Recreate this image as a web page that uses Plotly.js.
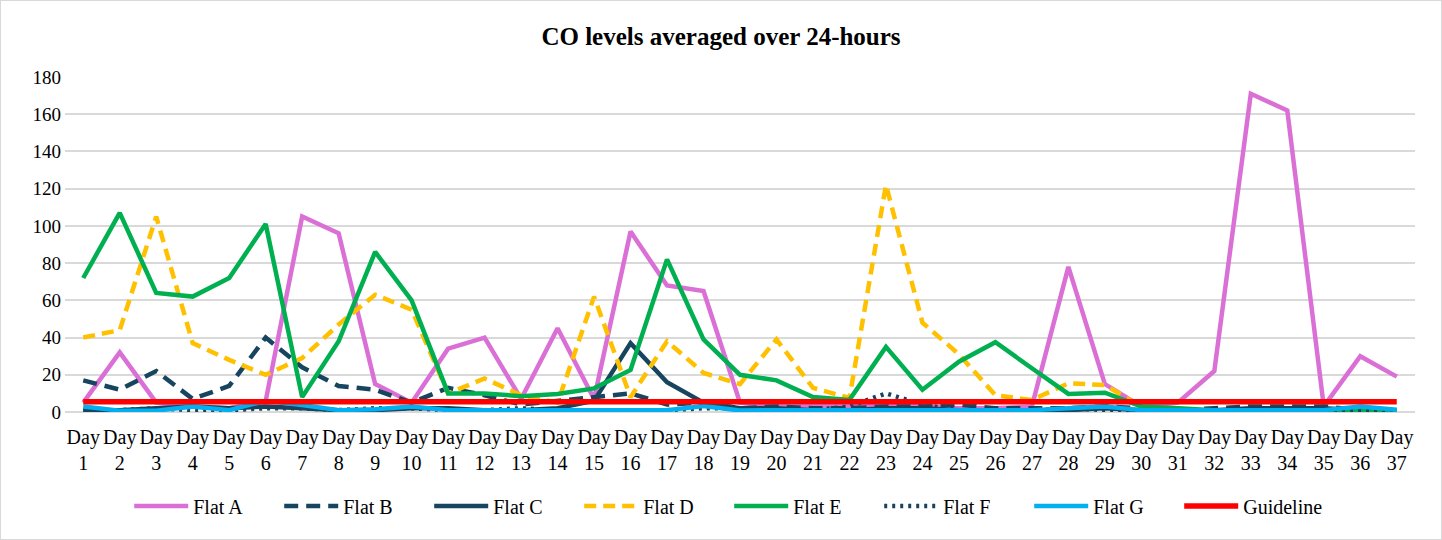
<!DOCTYPE html>
<html>
<head>
<meta charset="utf-8">
<script src="https://cdn.plot.ly/plotly-3.0.1.min.js"></script>
<style>
  html, body { margin: 0; padding: 0; background: #ffffff; }
  #wrap { position: relative; width: 1442px; height: 540px; }
  #chart { width: 1442px; height: 540px; }
  #frame { position: absolute; left: 0; top: 0; width: 1440px; height: 538px; border: 1px solid #d9d9d9; pointer-events: none; }
</style>
</head>
<body>
<div id="wrap"><div id="chart"></div><div id="frame"></div></div>
<script>
const days = [];
for (let i = 1; i <= 37; i++) days.push('Day<br>' + i);

const flatA = [5,32,5,3,2,6,105,96,15,5,34,40,7,45,7,97,68,65,5,3,3,3,4,3,2,2,3,78,15,3,5,22,171,162,3,30,19];
const flatB = [17,12,22,7,14,40,24,14,12,5,13,9,4,6,8,10,4,5,2,3,2,2,3,3,4,2,2,2,3,2,1,2,3,3,3,1,1];
const flatC = [1,1,2,3,2,3,2,1,1,2,2,1,1,2,6,37,16,5,2,2,1,1,2,2,1,1,1,1,2,1,1,1,2,2,2,1,1];
const flatD = [40,44,105,37,28,20,29,47,63,55,10,18,9,5,62,8,38,21,15,39,13,7.5,122,48,31,9,6.5,15.4,14.5,3,1,0.5,0.5,0.5,0.5,1,1];
const flatE = [72,107,64,62,72,101,8,38,86,60,10,10,8.5,9.7,12.7,22.6,82,39,20,17,8,6.5,35,12,27,37.5,23.5,9.7,10.4,3,2,1,1,1,0.5,0.5,0.5];
const flatF = [1,1,2,1,1,2,2,1,2,2,1,1,2,1,1,1,1,2,2,1,1,3,10,4,1,1,1,2,1,1,0.5,0.5,1,1,1,0.5,0.5];
const flatG = [3,0.7,0.7,3,1,6,3.8,1,1.5,3,1,1,1,1,1.2,0.6,1,3.2,0.8,1,1,1,1,1,1,1,1,2,3,1,1,1,1,1,1,3,1.2];
const guideline = [5.5,5.5,5.5,5.5,5.5,5.5,5.5,5.5,5.5,5.5,5.5,5.5,5.5,5.5,5.5,5.5,5.5,5.5,5.5,5.5,5.5,5.5,5.5,5.5,5.5,5.5,5.5,5.5,5.5,5.5,5.5,5.5,5.5,5.5,5.5,5.5,5.5];

const seriesNames = ['Flat A','Flat B','Flat C','Flat D','Flat E','Flat F','Flat G','Guideline'];
const seriesData = [flatA, flatB, flatC, flatD, flatE, flatF, flatG, guideline];
const seriesColors = ['#da70d6','#17455f','#17455f','#ffc000','#00b050','#17455f','#00b0f0','#ff0000'];
const seriesDash = ['solid','14px,8px','solid','12px,7px','solid','3px,5px','solid','solid'];
const seriesWidth = [4.5,4.5,4.5,4.5,4.5,4.5,4.5,5.5];

const FONT = 'Liberation Serif';

const traces = seriesNames.map((n, i) => ({
  type: 'scatter',
  mode: 'lines',
  name: n,
  x: days,
  y: seriesData[i],
  line: { color: seriesColors[i], width: seriesWidth[i], dash: seriesDash[i] },
  hoverinfo: 'skip'
}));

const layout = {
  width: 1442,
  height: 540,
  paper_bgcolor: '#ffffff',
  plot_bgcolor: '#ffffff',
  margin: { l: 65, r: 27, t: 77, b: 128 },
  font: { family: FONT, color: '#000000', size: 19 },
  title: {
    text: '<b>CO levels averaged over 24-hours</b>',
    font: { family: FONT, size: 25, color: '#000000' },
    x: 0.5, xref: 'container', xanchor: 'center',
    y: 1 - 36 / 540, yref: 'container', yanchor: 'middle'
  },
  xaxis: {
    type: 'category',
    range: [-0.5, 36.5],
    showgrid: false,
    zeroline: false,
    showline: false,
    ticks: '',
    ticklabelstandoff: 11,
    tickfont: { size: 20, family: FONT, color: '#000000' },
    tickangle: 0,
    fixedrange: true
  },
  yaxis: {
    range: [0, 180],
    dtick: 20,
    showgrid: true,
    gridcolor: '#d9d9d9',
    gridwidth: 2,
    zeroline: true,
    zerolinecolor: '#d9d9d9',
    zerolinewidth: 2,
    showline: false,
    ticks: '',
    ticklabelstandoff: 3,
    tickfont: { size: 19, family: FONT, color: '#000000' },
    fixedrange: true
  },
  showlegend: true,
  legend: {
    orientation: 'h',
    x: 0.492, xref: 'paper', xanchor: 'center',
    y: 1 - 506 / 540, yref: 'container', yanchor: 'middle',
    font: { size: 20, family: FONT, color: '#000000' },
    itemwidth: 54,
    entrywidth: 81,
    entrywidthmode: 'pixels',
    traceorder: 'normal'
  }
};

Plotly.newPlot('chart', traces, layout, { staticPlot: true, displayModeBar: false });
</script>
</body>
</html>
